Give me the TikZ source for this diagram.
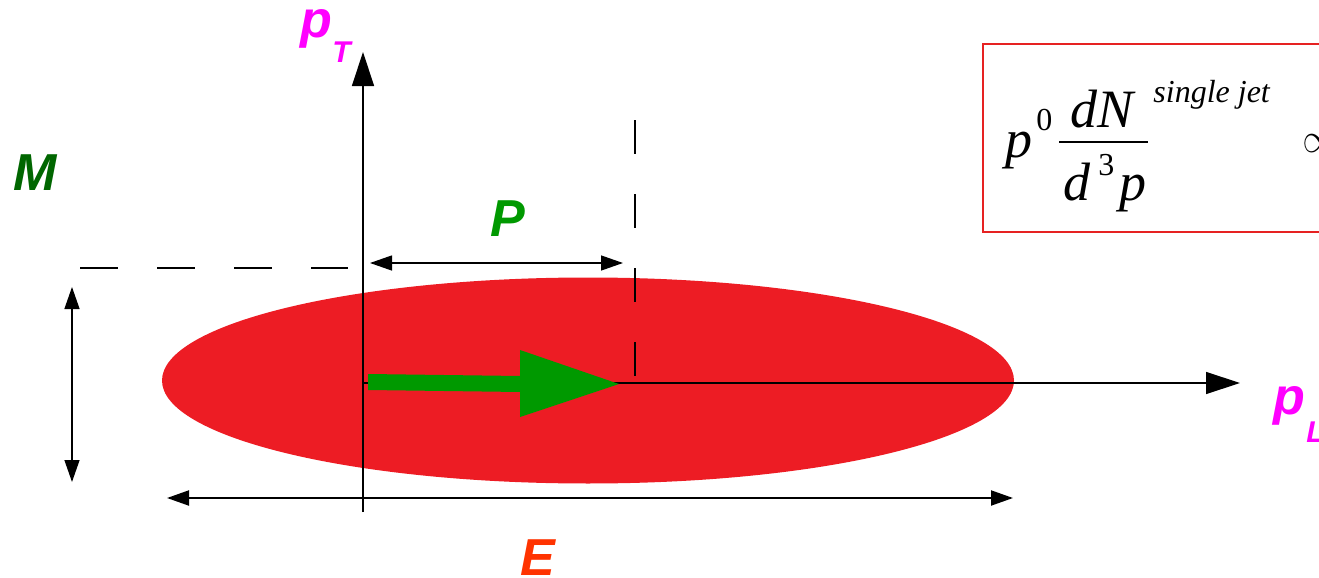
\documentclass[tikz,border=0pt]{standalone}
\usepackage{fontspec}
\setmainfont{Liberation Serif}
\newfontfamily\lblfont{Liberation Sans}
\usetikzlibrary{arrows.meta}
\definecolor{jetBlob}{HTML}{ED1C24}
\definecolor{jetFrame}{HTML}{E62222}
\definecolor{jetMom}{HTML}{009900}
\definecolor{jetMass}{HTML}{006600}
\definecolor{jetEnergy}{HTML}{FF3300}
\definecolor{jetAxis}{HTML}{FF00FF}
\tikzset{
  jetfig/.style={x=0.5pt, y=-0.5pt},
  axisline/.style={draw=black, line width=0.65pt, -{Triangle[length=17pt, width=11pt]}},
  dimline/.style={draw=black, line width=0.65pt,
    {Triangle[length=11pt, width=7.5pt]}-{Triangle[length=11pt, width=7.5pt]}},
  guide/.style={draw=black, line width=1pt, dash pattern=on 19pt off 19.5pt},
  % Achsen- und Groessenbeschriftungen: fett kursiv, serifenlos
  bigsym/.style={font=\lblfont\bfseries\itshape\fontsize{26}{30}\selectfont,
    inner sep=0pt, anchor=base west},
  subsym/.style={font=\lblfont\bfseries\itshape\fontsize{15}{17}\selectfont,
    inner sep=0pt, anchor=base west, text=jetAxis},
  eqtext/.style={font=\itshape\fontsize{27}{30}\selectfont, inner sep=0pt, anchor=base west},
  eqsmall/.style={font=\fontsize{16}{18}\selectfont, inner sep=0pt, anchor=base west},
}

\begin{document}
\begin{tikzpicture}[jetfig]
  \useasboundingbox (0,0) rectangle (1319,578);
  \fill[jetBlob] (588,380.5) ellipse [x radius=426, y radius=103];

  \coordinate (O) at (363,383);
  \coordinate (pTfoot) at (363,512);
  \coordinate (pTtip) at (363,52);
  \coordinate (pLtip) at (1240,383);
  \draw[axisline] (pTfoot) -- (pTtip);
  \draw[axisline] (O) -- (pLtip);

  % Jetimpuls
  \fill[jetMom] (368,374) -- (520,376) -- (520,350) -- (619,384)
    -- (520,417) -- (520,392) -- (368,390) -- cycle;

  \coordinate (Mguide) at (80,268);
  \coordinate (Mguideend) at (348,268);
  \coordinate (Pguide) at (635,120);
  \coordinate (Pguideend) at (635,383);
  \draw[guide] (Mguide) -- (Mguideend);
  \draw[guide, dash pattern=on 17pt off 20pt] (Pguide) -- (Pguideend);

  \coordinate (Pleft) at (370,263);
  \coordinate (Pright) at (623,263);
  \coordinate (Mtop) at (72,287);
  \coordinate (Mbot) at (72,482);
  \coordinate (Eleft) at (167,498);
  \coordinate (Eright) at (1013,498);
  \draw[dimline] (Pleft) -- (Pright);
  \draw[dimline] (Mtop) -- (Mbot);
  \draw[dimline, line width=1pt] (Eleft) -- (Eright);

  \node[bigsym, text=jetAxis] (pTp) at (300,37) {p};
  \node[subsym] (pTsub) at (332,62) {T};
  \node[bigsym, text=jetAxis] (pLp) at (1273,414) {p};
  \node[subsym] (pLsub) at (1306,442) {L};
  \node[bigsym, text=jetMass] (Mlabel) at (13,190) {M};
  \node[bigsym, text=jetMom] (Plabel) at (490,236) {P};
  \node[bigsym, text=jetEnergy] (Elabel) at (520,575) {E};

  % Formelkasten, rechts angeschnitten
  \draw[jetFrame, line width=0.65pt] (1319,44) -- (983,44) -- (983,232) -- (1319,232);
  \node[eqtext] (eqp) at (1005,157) {p};
  \node[eqsmall] (eqzero) at (1036,130) {0};
  \node[eqtext] (eqdN) at (1070,127) {dN};
  \coordinate (barL) at (1059,142);
  \coordinate (barR) at (1148,142);
  \draw[line width=1.4pt] (barL) -- (barR);
  \node[eqtext] (eqd) at (1063,200) {d};
  \node[eqsmall] (eqthree) at (1098,175) {3};
  \node[eqtext] (eqpp) at (1119,200) {p};
  \node[font=\itshape\fontsize{16}{18}\selectfont, inner sep=0pt, anchor=base west]
    (eqsj) at (1153,102) {single jet};
  \begin{scope}
    \clip (0,0) rectangle (1319,578);
    \node[font=\fontsize{21}{24}\selectfont, inner sep=0pt, anchor=west] (eqprop) at (1302,144) {$\propto$};
  \end{scope}
\end{tikzpicture}
\end{document}
